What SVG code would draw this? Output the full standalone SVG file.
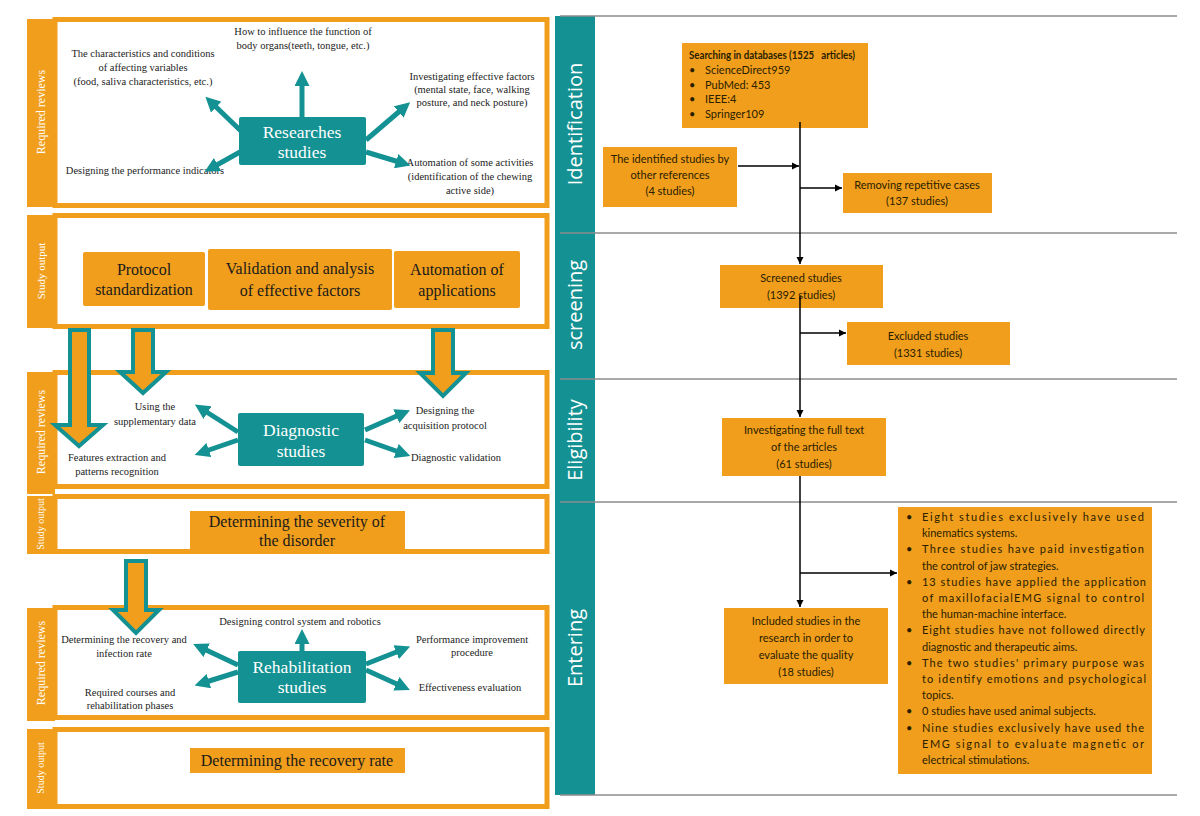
<svg xmlns="http://www.w3.org/2000/svg" width="1200" height="816" viewBox="0 0 1200 816">
<defs>
<style>
.panel{fill:#fff;stroke:#F09E1C;stroke-width:5}
.tab{fill:#F09E1C}
.tabt{font-family:"Liberation Serif",serif;fill:#fff;font-size:12px;text-anchor:middle}
.sm{font-family:"Liberation Serif",serif;font-size:10.5px;fill:#222;text-anchor:middle}
.tbox{fill:#149192}
.tbt{font-family:"Liberation Serif",serif;font-size:17.5px;fill:#fff;text-anchor:middle}
.obox{fill:#F09E1C}
.obt{font-family:"Liberation Serif",serif;font-size:16px;fill:#1a1a1a;text-anchor:middle}
.tarr{stroke:#149192;stroke-width:5;fill:none}
.hollow{fill:#F09E1C;stroke:#149192;stroke-width:4;stroke-linejoin:miter}
.lane{fill:#149192}
.lanet{font-family:"Open Sans",sans-serif;font-size:20px;fill:#fff;text-anchor:middle}
.gl{stroke:#8c8c8c;stroke-width:1.5}
.rb{fill:#F09E1C}
.rt{font-family:Lato,"Liberation Sans",sans-serif;font-size:11px;fill:#2a2000;text-anchor:middle}
.rl{font-family:Lato,"Liberation Sans",sans-serif;font-size:11px;fill:#2a2000}
.bl{stroke:#000;stroke-width:1.5;fill:none}
</style>
<marker id="ta" viewBox="0 0 10 10" refX="2" refY="5" markerWidth="3" markerHeight="3" orient="auto" markerUnits="strokeWidth"><path d="M0,0 L10,5 L0,10 z" fill="#149192"/></marker>
<marker id="ba" viewBox="0 0 10 10" refX="10" refY="5" markerWidth="5" markerHeight="5" orient="auto" markerUnits="strokeWidth"><path d="M0,0 L10,5 L0,10 z" fill="#000"/></marker>
</defs>
<rect width="1200" height="816" fill="#fff"/>

<!-- Left panels -->
<g id="panel1">
<rect class="tab" x="27" y="19" width="28" height="188"/>
<rect class="panel" x="55" y="19.5" width="492" height="186"/>
<text class="tabt" transform="translate(45,112) rotate(-90)">Required reviews</text>
</g>
<g id="panel2">
<rect class="tab" x="27" y="215" width="28" height="113"/>
<rect class="panel" x="55" y="215.5" width="492" height="111"/>
<text class="tabt" transform="translate(45,271) rotate(-90)" style="font-size:11px">Study output</text>
</g>
<g id="panel3">
<rect class="tab" x="27" y="372" width="28" height="122"/>
<rect class="panel" x="55" y="372.5" width="492" height="114"/>
<text class="tabt" transform="translate(45,432) rotate(-90)">Required reviews</text>
</g>
<g id="panel4">
<rect class="tab" x="27" y="496" width="28" height="58"/>
<rect class="panel" x="55" y="496.5" width="492" height="55"/>
<text class="tabt" transform="translate(44,524) rotate(-90)" style="font-size:10px">Study output</text>
</g>
<g id="panel5">
<rect class="tab" x="27" y="608" width="28" height="113"/>
<rect class="panel" x="55" y="607.5" width="492" height="110"/>
<text class="tabt" transform="translate(45,663) rotate(-90)">Required reviews</text>
</g>
<g id="panel6">
<rect class="tab" x="27" y="729" width="28" height="80"/>
<rect class="panel" x="55" y="729.5" width="492" height="77"/>
<text class="tabt" transform="translate(44,768) rotate(-90)" style="font-size:10px">Study output</text>
</g>

<!-- Researches studies cluster -->
<g id="researches">
<rect class="tbox" x="239" y="117" width="127" height="48" rx="2"/>
<text class="tbt" x="302" y="138">Researches</text>
<text class="tbt" x="302" y="158">studies</text>
</g>
<g id="r-labels">
<text class="sm" x="303" y="35">How to influence the function of</text>
<text class="sm" x="303" y="49">body organs(teeth, tongue, etc.)</text>
<text class="sm" x="143" y="57">The characteristics and conditions</text>
<text class="sm" x="143" y="71">of affecting variables</text>
<text class="sm" x="143" y="85">(food, saliva characteristics, etc.)</text>
<text class="sm" x="472" y="80">Investigating effective factors</text>
<text class="sm" x="472" y="93">(mental state, face, walking</text>
<text class="sm" x="472" y="106">posture, and neck posture)</text>
<text class="sm" x="145" y="174">Designing the performance indicators</text>
<text class="sm" x="470" y="166">Automation of some activities</text>
<text class="sm" x="470" y="180">(identification of the chewing</text>
<text class="sm" x="470" y="194">active side)</text>
</g>

<!-- Study output boxes -->
<g id="protocol"><rect class="obox" x="83" y="252" width="122" height="54" rx="2"/><text class="obt" x="144" y="275">Protocol</text><text class="obt" x="144" y="295">standardization</text></g>
<g id="validation"><rect class="obox" x="208" y="249" width="184" height="61" rx="2"/><text class="obt" x="300" y="274">Validation and analysis</text><text class="obt" x="300" y="296">of effective factors</text></g>
<g id="automation"><rect class="obox" x="394" y="251" width="126" height="57" rx="2"/><text class="obt" x="457" y="275">Automation of</text><text class="obt" x="457" y="296">applications</text></g>

<!-- Diagnostic cluster -->
<g id="diagnostic">
<rect class="tbox" x="238" y="413" width="126" height="53" rx="2"/>
<text class="tbt" x="301" y="436">Diagnostic</text>
<text class="tbt" x="301" y="457">studies</text>
</g>
<g id="d-labels">
<text class="sm" x="155" y="410">Using the</text>
<text class="sm" x="155" y="425">supplementary data</text>
<text class="sm" x="117" y="461">Features extraction and</text>
<text class="sm" x="117" y="475">patterns recognition</text>
<text class="sm" x="445" y="414">Designing the</text>
<text class="sm" x="445" y="429">acquisition protocol</text>
<text class="sm" x="456" y="461">Diagnostic validation</text>
</g>

<g id="severity"><rect class="obox" x="190" y="511" width="215" height="39"/><text class="obt" x="297" y="527">Determining the severity of</text><text class="obt" x="297" y="546">the disorder</text></g>

<!-- Rehabilitation cluster -->
<g id="rehabilitation">
<rect class="tbox" x="238" y="651" width="128" height="52" rx="2"/>
<text class="tbt" x="302" y="673">Rehabilitation</text>
<text class="tbt" x="302" y="693">studies</text>
</g>
<g id="rh-labels">
<text class="sm" x="300" y="625">Designing control system and robotics</text>
<text class="sm" x="124" y="643">Determining the recovery and</text>
<text class="sm" x="124" y="657">infection rate</text>
<text class="sm" x="130" y="696">Required courses and</text>
<text class="sm" x="130" y="709">rehabilitation phases</text>
<text class="sm" x="472" y="643">Performance improvement</text>
<text class="sm" x="472" y="656">procedure</text>
<text class="sm" x="470" y="691">Effectiveness evaluation</text>
</g>

<g id="recovery"><rect class="obox" x="190" y="748" width="215" height="25"/><text class="obt" x="297" y="766">Determining the recovery rate</text></g>

<!-- Left connectors -->
<g id="left-connectors">
<line class="tarr" x1="302" y1="117" x2="302" y2="83" marker-end="url(#ta)"/>
<line class="tarr" x1="242" y1="132" x2="214" y2="105" marker-end="url(#ta)"/>
<line class="tarr" x1="240" y1="152" x2="215" y2="166" marker-end="url(#ta)"/>
<line class="tarr" x1="366" y1="140" x2="401" y2="110" marker-end="url(#ta)"/>
<line class="tarr" x1="366" y1="152" x2="399" y2="162" marker-end="url(#ta)"/>

<line class="tarr" x1="238" y1="432" x2="205" y2="411" marker-end="url(#ta)"/>
<line class="tarr" x1="238" y1="440" x2="206" y2="451" marker-end="url(#ta)"/>
<line class="tarr" x1="365" y1="430" x2="399" y2="415" marker-end="url(#ta)"/>
<line class="tarr" x1="365" y1="440" x2="399" y2="452" marker-end="url(#ta)"/>

<line class="tarr" x1="302" y1="651" x2="302" y2="641" marker-end="url(#ta)"/>
<line class="tarr" x1="238" y1="665" x2="204" y2="649" marker-end="url(#ta)"/>
<line class="tarr" x1="238" y1="672" x2="206" y2="682" marker-end="url(#ta)"/>
<line class="tarr" x1="366" y1="664" x2="399" y2="651" marker-end="url(#ta)"/>
<line class="tarr" x1="366" y1="670" x2="399" y2="685" marker-end="url(#ta)"/>

<path class="hollow" d="M70,330 L89,330 L89,425 L103,425 L79,446 L55,425 L70,425 Z"/>
<path class="hollow" d="M133,330 L153,330 L153,372 L166,372 L143,393 L120,372 L133,372 Z"/>
<path class="hollow" d="M433,330 L453,330 L453,373 L466,373 L443,396 L420,373 L433,373 Z"/>
<path class="hollow" d="M126,561 L146,561 L146,610 L159,610 L136,633 L113,610 L126,610 Z"/>
</g>

<!-- Right: lanes -->
<g id="lanes">
<rect class="lane" x="555" y="16" width="40" height="779"/>
<line class="gl" x1="560" y1="16" x2="1177" y2="16"/>
<line class="gl" x1="560" y1="233" x2="1177" y2="233"/>
<line class="gl" x1="560" y1="379" x2="1177" y2="379"/>
<line class="gl" x1="560" y1="502" x2="1177" y2="502"/>
<line class="gl" x1="560" y1="795" x2="1177" y2="795"/>
<text class="lanet" transform="translate(582,124) rotate(-90)">Identification</text>
<text class="lanet" transform="translate(582,305) rotate(-90)">screening</text>
<text class="lanet" transform="translate(582,440) rotate(-90)">Eligibility</text>
<text class="lanet" transform="translate(582,648) rotate(-90)">Entering</text>
</g>

<g id="search">
<rect class="rb" x="682" y="43" width="186" height="85"/>
<text class="rl" x="689" y="59" style="font-weight:bold" xml:space="preserve" textLength="166" lengthAdjust="spacingAndGlyphs">Searching in databases (1525   articles)</text>
<text class="rl" x="689" y="74">•</text><text class="rl" x="705" y="74">ScienceDirect959</text>
<text class="rl" x="689" y="89">•</text><text class="rl" x="705" y="89">PubMed: 453</text>
<text class="rl" x="689" y="103">•</text><text class="rl" x="705" y="103">IEEE:4</text>
<text class="rl" x="689" y="118">•</text><text class="rl" x="705" y="118">Springer109</text>
</g>
<g id="identified">
<rect class="rb" x="603" y="147" width="134" height="60"/>
<text class="rt" x="670" y="163">The identified studies by</text>
<text class="rt" x="670" y="179">other references</text>
<text class="rt" x="670" y="195">(4 studies)</text>
</g>
<g id="removing">
<rect class="rb" x="843" y="173" width="149" height="40"/>
<text class="rt" x="917" y="189">Removing repetitive cases</text>
<text class="rt" x="917" y="205">(137 studies)</text>
</g>
<g id="screened">
<rect class="rb" x="720" y="265" width="163" height="43"/>
<text class="rt" x="801" y="282">Screened studies</text>
<text class="rt" x="801" y="299">(1392 studies)</text>
</g>
<g id="excluded">
<rect class="rb" x="847" y="322" width="163" height="43"/>
<text class="rt" x="928" y="340">Excluded studies</text>
<text class="rt" x="928" y="357">(1331 studies)</text>
</g>
<g id="investigating">
<rect class="rb" x="722" y="418" width="164" height="58"/>
<text class="rt" x="804" y="434">Investigating the full text</text>
<text class="rt" x="804" y="451">of the articles</text>
<text class="rt" x="804" y="468">(61 studies)</text>
</g>
<g id="included">
<rect class="rb" x="724" y="608" width="164" height="76"/>
<text class="rt" x="806" y="625">Included studies in the</text>
<text class="rt" x="806" y="642">research in order to</text>
<text class="rt" x="806" y="659">evaluate the quality</text>
<text class="rt" x="806" y="676">(18 studies)</text>
</g>
<g id="details">
<rect class="rb" x="898" y="507" width="254" height="267"/>
<text class="rl" x="906" y="521">•</text><text class="rl" x="922" y="521" textLength="222" lengthAdjust="spacing">Eight  studies  exclusively  have  used</text>
<text class="rl" x="922" y="537">kinematics systems.</text>
<text class="rl" x="906" y="553">•</text><text class="rl" x="922" y="553" textLength="222" lengthAdjust="spacing">Three  studies  have  paid  investigation</text>
<text class="rl" x="922" y="570">the control of jaw strategies.</text>
<text class="rl" x="906" y="586">•</text><text class="rl" x="922" y="586" textLength="224" lengthAdjust="spacing">13 studies have applied the application</text>
<text class="rl" x="922" y="602" textLength="222" lengthAdjust="spacing">of  maxillofacialEMG  signal  to  control</text>
<text class="rl" x="922" y="618">the human-machine interface.</text>
<text class="rl" x="906" y="634">•</text><text class="rl" x="922" y="634" textLength="223" lengthAdjust="spacing">Eight studies have not followed directly</text>
<text class="rl" x="922" y="651">diagnostic and therapeutic aims.</text>
<text class="rl" x="906" y="667">•</text><text class="rl" x="922" y="667" textLength="222" lengthAdjust="spacing">The  two  studies'  primary purpose was</text>
<text class="rl" x="922" y="683" textLength="224" lengthAdjust="spacing">to  identify  emotions  and  psychological</text>
<text class="rl" x="922" y="699">topics.</text>
<text class="rl" x="906" y="715">•</text><text class="rl" x="922" y="715">0 studies have used animal subjects.</text>
<text class="rl" x="906" y="732">•</text><text class="rl" x="922" y="732" textLength="222" lengthAdjust="spacing">Nine  studies  exclusively have used the</text>
<text class="rl" x="922" y="748" textLength="222" lengthAdjust="spacing">EMG  signal  to  evaluate  magnetic  or</text>
<text class="rl" x="922" y="764">electrical stimulations.</text>
</g>

<g id="right-connectors">
<line class="bl" x1="800" y1="122" x2="800" y2="264" marker-end="url(#ba)"/>
<line class="bl" x1="738" y1="166" x2="799" y2="166" marker-end="url(#ba)"/>
<line class="bl" x1="800" y1="188" x2="842" y2="188" marker-end="url(#ba)"/>
<line class="bl" x1="800" y1="296" x2="800" y2="417" marker-end="url(#ba)"/>
<line class="bl" x1="800" y1="333" x2="846" y2="333" marker-end="url(#ba)"/>
<line class="bl" x1="800" y1="476" x2="800" y2="607" marker-end="url(#ba)"/>
<line class="bl" x1="800" y1="573" x2="897" y2="573" marker-end="url(#ba)"/>
</g>
</svg>
